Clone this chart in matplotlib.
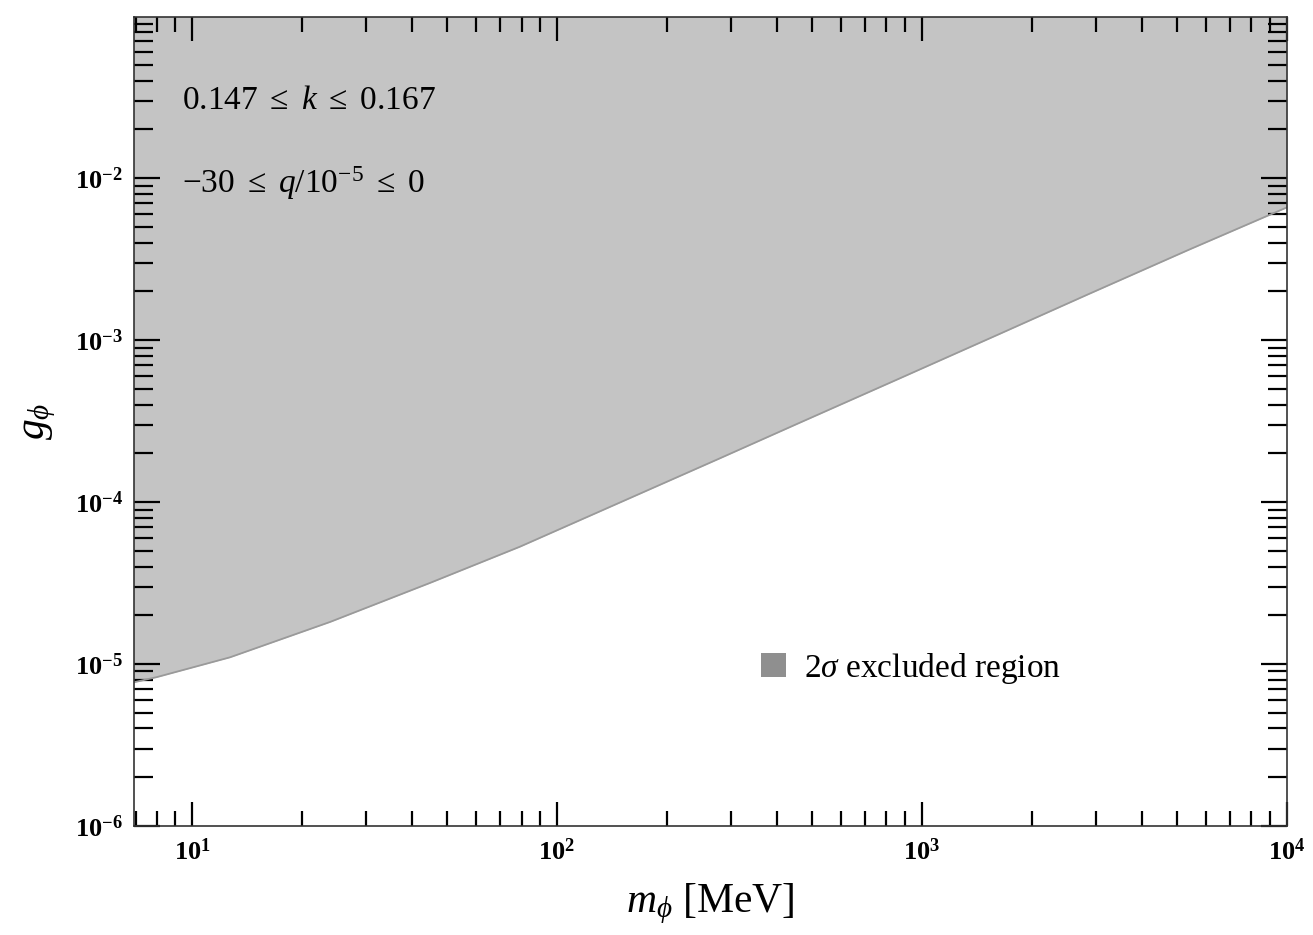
"""Excluded region in the (m_phi, g_phi) plane, Mathematica-like frame."""

import matplotlib

matplotlib.use("Agg")
import matplotlib.pyplot as plt  # noqa: E402
import numpy as np  # noqa: E402
from matplotlib.patches import Patch  # noqa: E402
from matplotlib.ticker import FuncFormatter, LogLocator, NullFormatter  # noqa: E402

# boundary of the 2 sigma excluded region
m_phi = [6.9, 8.0, 12.7, 23.9, 44.9, 79.1, 148.6, 279, 461, 867, 1629, 2871, 5395, 10000]
g_phi = [7.7e-6, 8.3e-6, 1.10e-5, 1.82e-5, 3.17e-5, 5.30e-5, 9.93e-5, 1.86e-4, 3.08e-4,
         5.79e-4, 1.09e-3, 1.93e-3, 3.62e-3, 6.6e-3]

x_range = (6.93, 1e4)
y_range = (1e-6, 0.099)
annotations = [r"$0.147\ \leq\ k\ \leq\ 0.167$", r"$-30\ \leq\ q/10^{-5}\ \leq\ 0$"]
legend_label = r"$2\sigma$ excluded region"

plt.rcParams["font.family"] = ["Liberation Serif", "DejaVu Serif"]
plt.rcParams["mathtext.fontset"] = "custom"
plt.rcParams["mathtext.rm"] = "Liberation Serif"
plt.rcParams["mathtext.it"] = "Liberation Serif:italic"
plt.rcParams["mathtext.bf"] = "Liberation Serif:bold"

FILL = "#c4c4c4"
EDGE = "#9a9a9a"
LEGEND = "#8f8f8f"


def pow10(val, _pos):
    exp = int(round(np.log10(val)))
    return r"$\mathbf{10}^{\mathbf{%d}}$" % exp


fig = plt.figure(figsize=(13.13, 9.35), dpi=100)
ax = fig.add_axes([0.102, 0.1166, 0.878, 0.8652])

m = np.array(m_phi)
g = np.array(g_phi)
ax.fill_between(m, g, y_range[1] * 2, color=FILL, linewidth=0)
ax.plot(m, g, color=EDGE, linewidth=1.3)

ax.set_xscale("log")
ax.set_yscale("log")
ax.set_xlim(*x_range)
ax.set_ylim(*y_range)

for axis in (ax.xaxis, ax.yaxis):
    axis.set_major_locator(LogLocator(base=10, numticks=20))
    axis.set_minor_locator(LogLocator(base=10, subs=np.arange(2, 10), numticks=20))
    axis.set_major_formatter(FuncFormatter(pow10))
    axis.set_minor_formatter(NullFormatter())

ax.tick_params(which="both", direction="in", top=True, right=True, width=1.6, color="black")
ax.tick_params(axis="x", which="major", length=17, labelsize=19, pad=9)
ax.tick_params(axis="x", which="minor", length=11)
ax.tick_params(axis="y", which="major", length=19, labelsize=19, pad=8)
ax.tick_params(axis="y", which="minor", length=14)
for spine in ax.spines.values():
    spine.set_linewidth(1.2)
    spine.set_color("#333333")

ax.set_xlabel(r"$m_{\phi}$ [MeV]", fontsize=30, labelpad=12)
ax.set_ylabel(r"$g_{\phi}$", fontsize=30)
ax.yaxis.set_label_coords(-0.066, 0.5)

ax.text(0.042, 0.897, annotations[0], transform=ax.transAxes, fontsize=24, va="center")
ax.text(0.042, 0.795, annotations[1], transform=ax.transAxes, fontsize=24, va="center")

handle = Patch(facecolor=LEGEND, edgecolor="none")
ax.legend([handle], [legend_label], loc="center left", bbox_to_anchor=(0.518, 0.195),
          frameon=False, fontsize=24, handlelength=0.75, handleheight=0.75, handletextpad=0.55)

fig.savefig("out.png", dpi=100)
